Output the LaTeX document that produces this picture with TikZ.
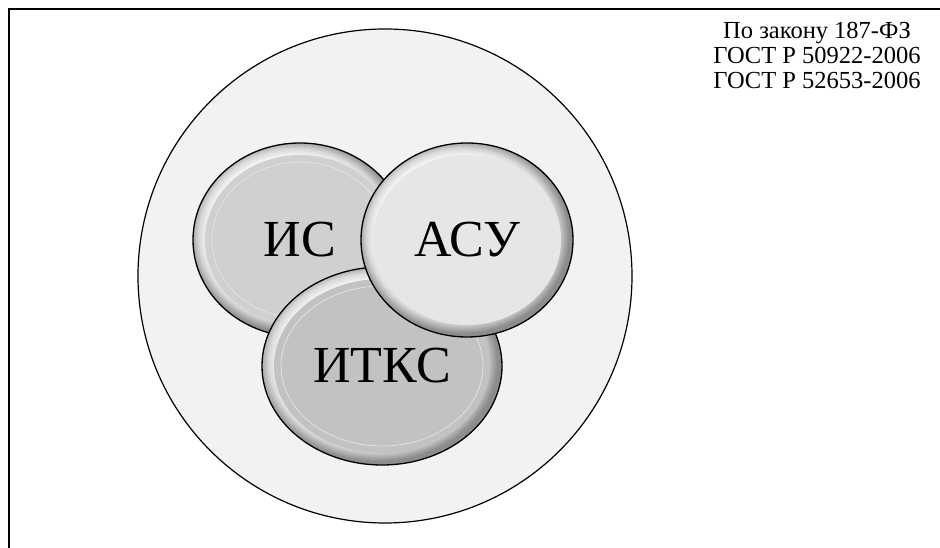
\documentclass[tikz,border=0pt]{standalone}
\usepackage{fontspec}
\setmainfont{Liberation Serif}
\usetikzlibrary{shapes.geometric,calc}
\definecolor{fieldGray}{HTML}{F2F2F2}
\definecolor{isGray}{HTML}{D0D0D0}
\definecolor{asuGray}{HTML}{E6E6E6}
\definecolor{itksGray}{HTML}{C2C2C2}
\pgfdeclareradialshading{rimShade}{\pgfpoint{-2bp}{2bp}}{color(0bp)=(white); color(20bp)=(white); color(22.5bp)=(gray!30); color(25bp)=(gray!90); color(50bp)=(gray!90)}

\begin{document}
\begin{tikzpicture}[x=1pt,y=1pt,
    rim/.style={ellipse,draw=black,line width=1.3pt,shading=rimShade,inner sep=0pt},
    face/.style={ellipse,inner sep=0pt,font=\fontsize{52}{60}\selectfont,
      path picture={\draw[line width=0.7pt,white!80!gray]
        let \p1=(path picture bounding box.north east), \p2=(path picture bounding box.center)
        in (\p2) ellipse [x radius=\x1-\x2-7pt, y radius=\y1-\y2-7pt];}}]
    \useasboundingbox (0,0) rectangle (940,548);
    % frame
    \draw[line width=2pt] (8.5,0) -- (8.5,538.5) -- (940,538.5);

    \node[circle,draw,line width=1.2pt,fill=fieldGray,minimum size=494pt,inner sep=0pt] (field) at (385,272) {};

    \node[rim,minimum width=214pt,minimum height=194pt] (isrim) at (300,308) {};
    \node[face,fill=isGray,minimum width=190pt,minimum height=170pt] (is) at (isrim) {ИС};

    \node[rim,minimum width=240pt,minimum height=198pt] (itksrim) at (382,182) {};
    \node[face,fill=itksGray,minimum width=216pt,minimum height=174pt] (itks) at (itksrim) {ИТКС};

    \node[rim,minimum width=212pt,minimum height=194pt] (asurim) at (467,308) {};
    \node[face,fill=asuGray,minimum width=188pt,minimum height=170pt] (asu) at (asurim) {АСУ};

    \node[align=center,anchor=north,inner sep=0pt,font=\fontsize{24.5}{25}\selectfont] (norms) at (817,526)
      {По закону 187-ФЗ\\ГОСТ Р 50922-2006\\ГОСТ Р 52653-2006};
\end{tikzpicture}
\end{document}
